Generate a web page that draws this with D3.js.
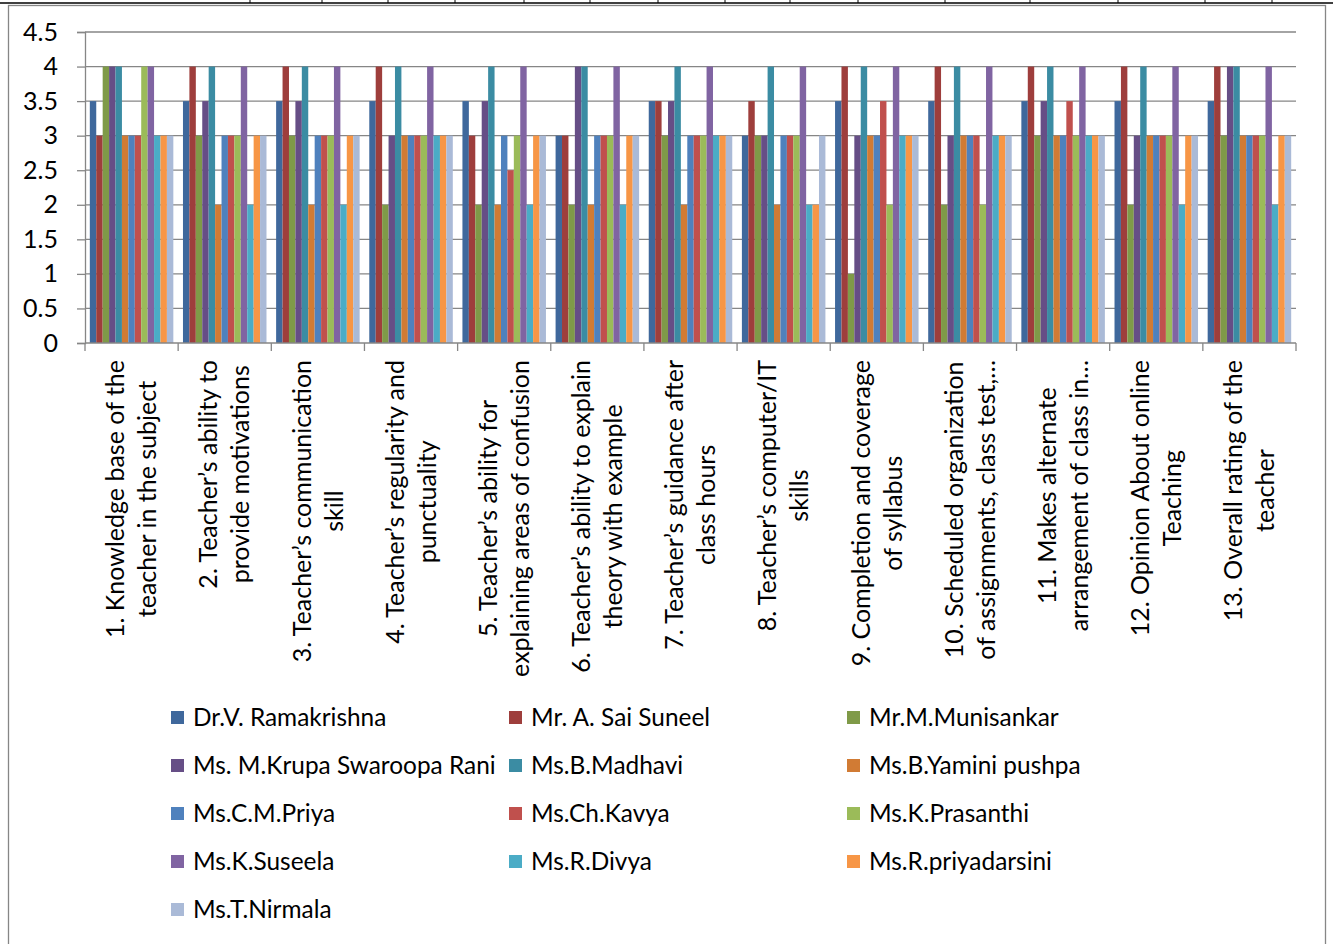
<!DOCTYPE html>
<html><head><meta charset="utf-8">
<script src="https://cdn.jsdelivr.net/npm/d3@7"></script>
<style>
html,body{margin:0;padding:0;background:#fff;}
svg text{font-family:Lato,"Liberation Sans",sans-serif;fill:#000;}
</style></head>
<body>
<svg id="chart" width="1333" height="944"></svg>
<script>
const categories = [
  ["1. Knowledge base of the","teacher in the subject"],
  ["2. Teacher’s ability to","provide motivations"],
  ["3. Teacher’s communication","skill"],
  ["4. Teacher’s regularity and","punctuality"],
  ["5. Teacher’s ability for","explaining areas of confusion"],
  ["6. Teacher’s ability to explain","theory with example"],
  ["7. Teacher’s guidance after","class hours"],
  ["8. Teacher’s computer/IT","skills"],
  ["9. Completion and coverage","of syllabus"],
  ["10. Scheduled organization","of assignments, class test,…"],
  ["11. Makes alternate","arrangement of class in…"],
  ["12. Opinion About online","Teaching"],
  ["13. Overall rating of the","teacher"]
];
const seriesNames = ["Dr.V. Ramakrishna","Mr. A. Sai Suneel","Mr.M.Munisankar","Ms. M.Krupa Swaroopa Rani","Ms.B.Madhavi","Ms.B.Yamini pushpa","Ms.C.M.Priya","Ms.Ch.Kavya","Ms.K.Prasanthi","Ms.K.Suseela","Ms.R.Divya","Ms.R.priyadarsini","Ms.T.Nirmala"];
const seriesColors = ["#3F689C","#9E3E3C","#7F9A48","#664E86","#3B8CA3","#D17B34","#4F81BD","#C0504D","#9BBB59","#8064A2","#4BACC6","#F79646","#AABAD7"];
// values[category][series]
const values = [
  [3.5,3,4,4,4,3,3,3,4,4,3,3,3],
  [3.5,4,3,3.5,4,2,3,3,3,4,2,3,3],
  [3.5,4,3,3.5,4,2,3,3,3,4,2,3,3],
  [3.5,4,2,3,4,3,3,3,3,4,3,3,3],
  [3.5,3,2,3.5,4,2,3,2.5,3,4,2,3,3],
  [3,3,2,4,4,2,3,3,3,4,2,3,3],
  [3.5,3.5,3,3.5,4,2,3,3,3,4,3,3,3],
  [3,3.5,3,3,4,2,3,3,3,4,2,2,3],
  [3.5,4,1,3,4,3,3,3.5,2,4,3,3,3],
  [3.5,4,2,3,4,3,3,3,2,4,3,3,3],
  [3.5,4,3,3.5,4,3,3,3.5,3,4,3,3,3],
  [3.5,4,2,3,4,3,3,3,3,4,2,3,3],
  [3.5,4,3,4,4,3,3,3,3,4,2,3,3]
];
const yTicks = [0,0.5,1,1.5,2,2.5,3,3.5,4,4.5];
const tableTicks = [250,322,388,455,524,590,658,725,790,858,945,1030,1118,1205,1272];

const svg = d3.select("#chart");
const W = 1333, H = 944;
const pLeft = 85, pRight = 1296, pTop = 32, pBottom = 343;
const gridColor = "#868686";
const FS = 25, LFS = 24.4;

// page decoration: table line and frame
svg.append("line").attr("x1",0).attr("x2",W).attr("y1",3).attr("y2",3).attr("stroke","#000").attr("stroke-width",1.5);
svg.selectAll(".tt").data(tableTicks).enter().append("line")
  .attr("x1",d=>d).attr("x2",d=>d).attr("y1",0).attr("y2",3).attr("stroke","#000").attr("stroke-width",1);
svg.append("rect").attr("x",8.5).attr("y",5.5).attr("width",1317).attr("height",H)
  .attr("fill","none").attr("stroke",gridColor).attr("stroke-width",1.3);

const x0 = d3.scaleBand().domain(d3.range(categories.length)).range([pLeft,pRight]).paddingInner(0).paddingOuter(0);
const x1 = d3.scaleBand().domain(d3.range(seriesNames.length)).range([0,x0.bandwidth()]).paddingInner(0).paddingOuter(0.75);
const y = d3.scaleLinear().domain([0,4.5]).range([pBottom,pTop]);

// gridlines
svg.append("g").selectAll("line").data(yTicks.filter(d=>d>0)).enter().append("line")
  .attr("x1",pLeft).attr("x2",pRight).attr("y1",d=>y(d)).attr("y2",d=>y(d))
  .attr("stroke",gridColor).attr("stroke-width",1.3);

// y axis
const yAxis = d3.axisLeft(y).tickValues(yTicks).tickSize(8).tickPadding(19).tickFormat(d=>String(d));
const gy = svg.append("g").attr("transform",`translate(${pLeft},0)`).call(yAxis);
gy.select(".domain").attr("stroke",gridColor).attr("stroke-width",1.3);
gy.selectAll(".tick line").attr("stroke",gridColor).attr("stroke-width",1.3);
gy.selectAll(".tick text").attr("font-size",FS).attr("font-family","Lato").attr("fill","#000");

// bars
const groups = svg.append("g").selectAll("g").data(values).enter().append("g")
  .attr("transform",(d,i)=>`translate(${x0(i)},0)`);
groups.selectAll("rect").data(d=>d.map((v,j)=>({v,j}))).enter().append("rect")
  .attr("x",d=>x1(d.j)).attr("width",x1.bandwidth())
  .attr("y",d=>y(d.v)).attr("height",d=>y(0)-y(d.v))
  .attr("fill",d=>seriesColors[d.j]);

// x axis
const xTickPos = d3.range(categories.length+1).map(i=>pLeft + i*x0.step());
svg.append("line").attr("x1",pLeft).attr("x2",pRight).attr("y1",pBottom).attr("y2",pBottom)
  .attr("stroke",gridColor).attr("stroke-width",1.3);
svg.append("g").selectAll("line").data(xTickPos).enter().append("line")
  .attr("x1",d=>d).attr("x2",d=>d).attr("y1",pBottom).attr("y2",pBottom+8)
  .attr("stroke",gridColor).attr("stroke-width",1.3);

// category labels (rotated, centered lines, longest line top at y=360)
const lineGap = 32;
categories.forEach((lines,i)=>{
  const cx = x0(i) + x0.bandwidth()/2;
  const g = svg.append("g");
  const texts = lines.map((t,k)=>{
    const lx = cx + (k - (lines.length-1)/2)*lineGap;
    return g.append("text").attr("font-size",FS).attr("text-anchor","middle")
      .attr("dy","0.35em").text(t).datum(lx);
  });
  const maxLen = d3.max(texts, t=>t.node().getComputedTextLength());
  const cy = 360 + maxLen/2;
  texts.forEach(t=>{ t.attr("transform",`translate(${t.datum()},${cy}) rotate(-90)`); });
});

// legend
const legCols = [171,509,847];
const legRow0 = 717, legRowGap = 48;
const leg = svg.append("g").selectAll("g").data(seriesNames).enter().append("g")
  .attr("transform",(d,i)=>`translate(${legCols[i%3]},${legRow0 + Math.floor(i/3)*legRowGap})`);
leg.append("rect").attr("x",0).attr("y",-6).attr("width",13).attr("height",13).attr("fill",(d,i)=>seriesColors[i]);
leg.append("text").attr("x",22).attr("dy","0.35em").attr("font-size",LFS).text(d=>d);
</script>
</body></html>
